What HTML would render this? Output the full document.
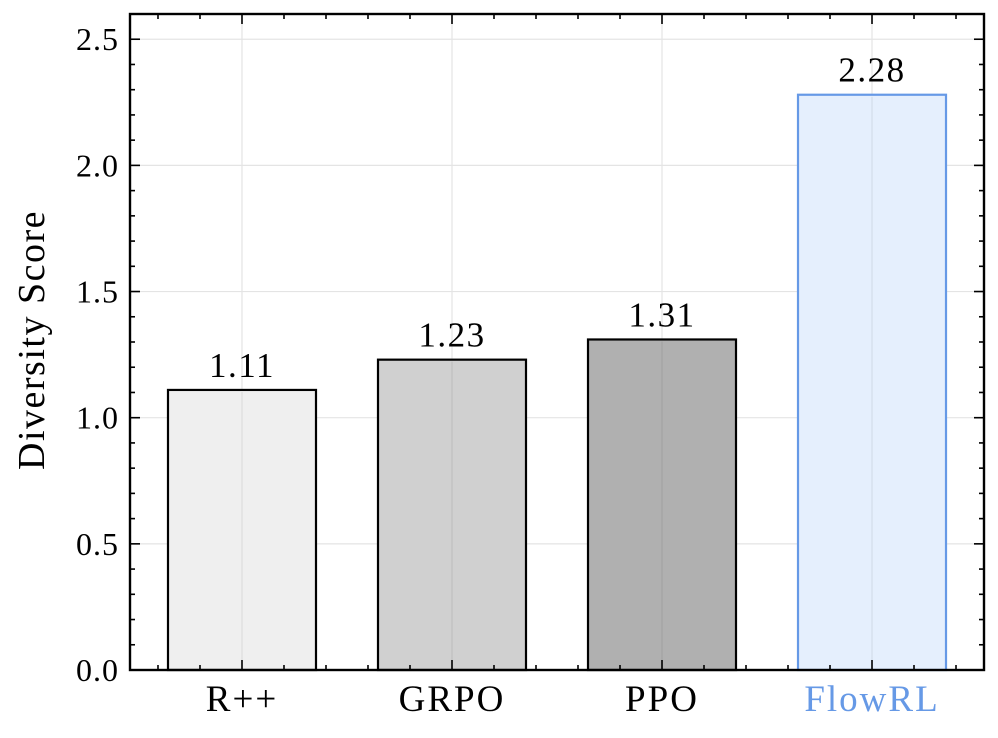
<!DOCTYPE html>
<html><head><meta charset="utf-8"><style>
html,body{margin:0;padding:0;background:#fff;}
svg text{font-family:"Liberation Serif","DejaVu Serif",serif;fill:#000;}
</style></head><body>
<svg id="chart" width="998" height="733" viewBox="0 0 998 733"></svg>
<script>
const categories = ["R++", "GRPO", "PPO", "FlowRL"];
const scores = [1.11, 1.23, 1.31, 2.28];
const valueLabels = ["1.11", "1.23", "1.31", "2.28"];
const yTicks = [0, 0.5, 1.0, 1.5, 2.0, 2.5];
const yTickLabels = ["0.0", "0.5", "1.0", "1.5", "2.0", "2.5"];
const fills = ["#efefef", "#d0d0d0", "#b0b0b0", "#e5effd"];
const strokes = ["#000", "#000", "#000", "#6699e6"];

const L=130,R=984,T=14,B=670;
const xmin=-0.5333,xmax=3.5333,ymin=0,ymax=2.6;
const xs=v=>L+(v-xmin)/(xmax-xmin)*(R-L);
const ys=v=>B-(v-ymin)/(ymax-ymin)*(B-T);
const NS="http://www.w3.org/2000/svg";
const svg=document.getElementById('chart');
function mk(tag,attrs,parent){const e=document.createElementNS(NS,tag);for(const k in attrs)e.setAttribute(k,attrs[k]);(parent||svg).appendChild(e);return e;}

yTicks.forEach(t=>{const g=mk('line',{x1:L,x2:R,y1:ys(t),y2:ys(t),stroke:'#e4e4e4','stroke-width':1.2});

});
categories.forEach((c,i)=>{const g=mk('line',{x1:xs(i),x2:xs(i),y1:T,y2:B,stroke:'#e4e4e4','stroke-width':1.2});

});

const bw=148/210;
categories.forEach((c,i)=>{
 const y0=ys(scores[i]);
 const r=mk('rect',{x:xs(i-bw/2),y:y0,width:xs(i+bw/2)-xs(i-bw/2),height:B-y0,fill:fills[i],stroke:strokes[i],'stroke-width':2.2});
 
 
 const vg=mk('line',{x1:xs(i),x2:xs(i),y1:y0+2,y2:B,stroke:'rgba(0,0,0,0.08)','stroke-width':1.2});
 
 
 const t=mk('text',{x:xs(i),y:y0-13,'text-anchor':'middle','font-size':35,'letter-spacing':1.5});
 t.textContent=valueLabels[i];
 
 
 const cl=mk('text',{x:xs(i),y:711,'text-anchor':'middle','font-size':37,'letter-spacing':2});
 cl.textContent=c;
 if(i===3)cl.setAttribute('style','fill:#6699e6');
 
 
});

const fr=mk('rect',{x:L,y:T,width:R-L,height:B-T,fill:'none',stroke:'#000','stroke-width':2.4});



for(let k=0;k<=26;k++){const v=k/10;const maj=(k%5===0);const len=maj?10:5;
 const a=mk('line',{x1:L,x2:L+len,y1:ys(v),y2:ys(v),stroke:'#000','stroke-width':1.6});
 
 
 const b=mk('line',{x1:R,x2:R-len,y1:ys(v),y2:ys(v),stroke:'#000','stroke-width':1.6});
 
 }
yTicks.forEach((t,i)=>{const e=mk('text',{x:L-11,y:ys(t)+11,'text-anchor':'end','font-size':32,'letter-spacing':1});
 e.textContent=yTickLabels[i];
 
 });
for(let k=-2;k<=17;k++){const v=k/5;if(v<xmin||v>xmax)continue;const maj=(k%5===0);const len=maj?10:5;
 const a=mk('line',{x1:xs(v),x2:xs(v),y1:B,y2:B-len,stroke:'#000','stroke-width':1.6});
 
 
 const b=mk('line',{x1:xs(v),x2:xs(v),y1:T,y2:T+len,stroke:'#000','stroke-width':1.6});
 
 }

const yc=(T+B)/2-2;
const yl=mk('text',{x:44,y:yc,'text-anchor':'middle','font-size':38,'letter-spacing':1.5,transform:`rotate(-90 44 ${yc})`});
yl.textContent='Diversity Score';


</script>
</body></html>
